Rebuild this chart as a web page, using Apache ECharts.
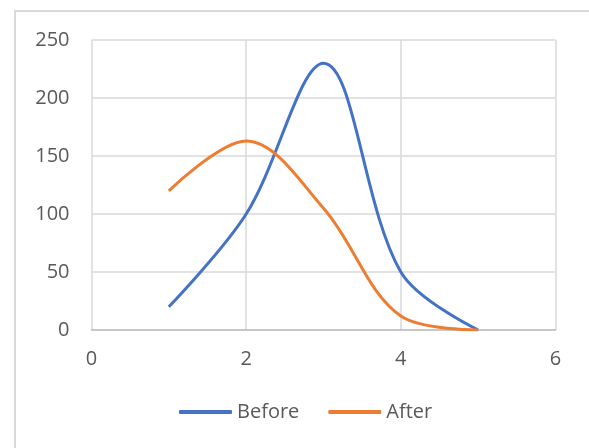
<!DOCTYPE html>
<html><head><meta charset="utf-8">
<script src="https://cdn.jsdelivr.net/npm/echarts@6/dist/echarts.min.js"></script>
<style>html,body{margin:0;padding:0;background:#fff}#c{width:589px;height:448px}</style>
</head><body><div id="c"></div>
<script>
const xValues = [1, 2, 3, 4, 5];
const beforeValues = [20, 100, 230, 50, 0];
const afterValues = [120, 163, 105, 12, 0];
const seriesNames = ['Before', 'After'];

const chart = echarts.init(document.getElementById('c'));
const font = 'Open Sans';
chart.setOption({
  animation: false,
  backgroundColor: '#fff',
  graphic: [{type: 'rect', shape: {x: 15, y: 11, width: 620, height: 500}, style: {fill: 'none', stroke: '#d9d9d9', lineWidth: 2}}],
  grid: {left: 91.5, right: 33.5, top: 40, bottom: 118},
  legend: {bottom: 26, left: 179, padding: 0, itemWidth: 53, itemHeight: 4, itemGap: 29, icon: 'roundRect',
    textStyle: {fontFamily: font, fontSize: 20, color: '#595959'},
    data: seriesNames},
  xAxis: {type: 'value', min: 0, max: 6, interval: 2,
    axisLine: {show: true, lineStyle: {color: '#bfbfbf', width: 1.5}}, axisTick: {show: false},
    splitLine: {lineStyle: {color: '#d9d9d9', width: 1.5}},
    axisLabel: {fontFamily: font, fontSize: 20, color: '#595959', margin: 19}},
  yAxis: {type: 'value', min: 0, max: 250, interval: 50,
    axisLine: {show: false}, axisTick: {show: false},
    splitLine: {lineStyle: {color: '#d9d9d9', width: 1.5}},
    axisLabel: {fontFamily: font, fontSize: 20, color: '#595959', margin: 22}},
  series: [
    {name: seriesNames[0], type: 'line', smooth: 0.35, showSymbol: false, symbol: 'none',
      data: xValues.map((x, i) => [x, beforeValues[i]]),
      lineStyle: {color: '#4472C4', width: 3}, itemStyle: {color: '#4472C4'}},
    {name: seriesNames[1], type: 'line', smooth: 0.35, showSymbol: false, symbol: 'none',
      data: xValues.map((x, i) => [x, afterValues[i]]),
      lineStyle: {color: '#ED7D31', width: 3}, itemStyle: {color: '#ED7D31'}}
  ]
});
</script></body></html>
